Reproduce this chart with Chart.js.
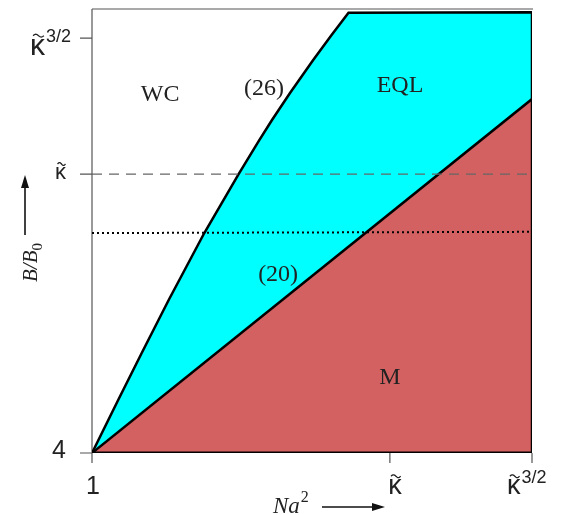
<!DOCTYPE html>
<html>
<head>
<meta charset="utf-8">
<script src="https://cdn.jsdelivr.net/npm/chart.js@4/dist/chart.umd.min.js"></script>
<style>
  body { margin: 0; background: #fff; }
</style>
</head>
<body>
<canvas id="phaseChart" width="561" height="515"></canvas>
<script>
// Both axes are log-like; values normalised so that kappa^{3/2} sits at 1
const xTickValues = [0, 0.677, 1];
const xTickBase = ['1', 'κ', 'κ'];
const xTickSup = ['', '', '3/2'];
const yTickValues = [0, 0.672, 1];
const yTickBase = ['4', 'κ', 'κ'];
const yTickSup = ['', '', '3/2'];

// boundary (26) between WC and EQL, then top edge and right edge of EQL
const curve26X = [0, 0.0595, 0.113, 0.1743, 0.2552, 0.3332, 0.3802, 0.4091, 0.45, 0.5027, 0.5445, 0.583, 1, 1];
const curve26Y = [0, 0.1277, 0.241, 0.3687, 0.5301, 0.6723, 0.7542, 0.8024, 0.8675, 0.947, 1.0072, 1.061, 1.062, 0];

// boundary (20) between EQL and M
const line20X = [0, 1];
const line20Y = [0, 0.853];

// bottom edge of M
const bottomX = [0, 1];
const bottomY = [0, 0];

// reference lines
const dashedX = [0, 0.99];
const dashedY = [0.672, 0.672];
const dottedX = [0, 1];
const dottedY = [0.530, 0.533];

// region names and where they sit (data units)
const regionNames = ['WC', 'EQL', 'M', '(26)', '(20)'];
const regionX = [0.155, 0.700, 0.677, 0.391, 0.423];
const regionY = [0.863, 0.884, 0.181, 0.877, 0.429];

const pts = (xs, ys) => xs.map((x, i) => ({ x: x, y: ys[i] }));

const serif = "'Liberation Serif', 'DejaVu Serif', serif";
const sans = "'Liberation Sans', Arial, sans-serif";

function arrow(ctx, x1, y1, x2, y2) {
    ctx.save();
    ctx.strokeStyle = '#111';
    ctx.fillStyle = '#111';
    ctx.lineWidth = 1.6;
    ctx.beginPath();
    ctx.moveTo(x1, y1);
    ctx.lineTo(x2, y2);
    ctx.stroke();
    const a = Math.atan2(y2 - y1, x2 - x1);
    ctx.beginPath();
    ctx.moveTo(x2 + 3 * Math.cos(a), y2 + 3 * Math.sin(a));
    ctx.lineTo(x2 - 10 * Math.cos(a) + 4 * Math.sin(a), y2 - 10 * Math.sin(a) - 4 * Math.cos(a));
    ctx.lineTo(x2 - 10 * Math.cos(a) - 4 * Math.sin(a), y2 - 10 * Math.sin(a) + 4 * Math.cos(a));
    ctx.closePath();
    ctx.fill();
    ctx.restore();
}

// draws base text (kappa gets a tilde) plus optional superscript, starting at x
function tickLabel(ctx, base, sup, x, baseline, size, supSize) {
    ctx.textAlign = 'left';
    ctx.textBaseline = 'alphabetic';
    ctx.font = size + 'px ' + sans;
    const bw = ctx.measureText(base).width;
    ctx.fillText(base, x, baseline);
    if (base === 'κ') {
        const cx = x + bw / 2 + 1;
        const ty = baseline - size * 0.53 - 3.5;
        const w = size * 0.36;
        ctx.save();
        ctx.strokeStyle = ctx.fillStyle;
        ctx.lineWidth = 1.3;
        ctx.beginPath();
        for (let t = 0; t <= 1.0001; t += 0.05) {
            const px = cx - w / 2 + t * w;
            const py = ty - 1.4 * Math.sin(2 * Math.PI * t);
            if (t === 0) ctx.moveTo(px, py); else ctx.lineTo(px, py);
        }
        ctx.stroke();
        ctx.restore();
    }
    if (sup) {
        ctx.font = supSize + 'px ' + sans;
        ctx.fillText(sup, x + bw + 1, baseline - size * 0.42);
    }
    return bw;
}

function labelWidth(ctx, base, sup, size, supSize) {
    ctx.font = size + 'px ' + sans;
    let w = ctx.measureText(base).width;
    if (sup) {
        ctx.font = supSize + 'px ' + sans;
        w += 1 + ctx.measureText(sup).width;
    }
    return w;
}

const framePlugin = {
    id: 'frame',
    beforeDatasetsDraw(chart) {
        const { ctx, chartArea: a, scales: { x, y } } = chart;
        ctx.save();
        ctx.strokeStyle = '#555';
        ctx.lineWidth = 1.2;
        ctx.beginPath();
        ctx.moveTo(a.left, a.top);
        ctx.lineTo(a.right + 1, a.top);
        ctx.moveTo(a.left, a.top);
        ctx.lineTo(a.left, a.bottom + 10);
        yTickValues.forEach(v => {
            const py = y.getPixelForValue(v);
            ctx.moveTo(a.left - 12, py);
            ctx.lineTo(a.left, py);
        });
        xTickValues.forEach(v => {
            const px = x.getPixelForValue(v);
            ctx.moveTo(px, a.bottom);
            ctx.lineTo(px, a.bottom + 10);
        });
        ctx.stroke();
        ctx.restore();
    },
    afterDatasetsDraw(chart) {
        const { ctx, chartArea: a, scales: { x, y } } = chart;
        ctx.save();
        ctx.fillStyle = '#222';

        // x tick labels
        xTickValues.forEach((v, i) => {
            const px = x.getPixelForValue(v);
            const size = xTickBase[i] === 'κ' ? 27 : 25;
            if (xTickSup[i]) {
                tickLabel(ctx, xTickBase[i], xTickSup[i], px - 25, a.bottom + 41, size, 18);
            } else {
                const w = labelWidth(ctx, xTickBase[i], '', size, 18);
                tickLabel(ctx, xTickBase[i], '', px - w / 2 + (xTickBase[i] === 'κ' ? 5 : 1), a.bottom + 41, size, 18);
            }
        });

        // y tick labels
        yTickValues.forEach((v, i) => {
            const py = y.getPixelForValue(v);
            if (yTickSup[i]) {
                const w = labelWidth(ctx, yTickBase[i], yTickSup[i], 30, 18);
                tickLabel(ctx, yTickBase[i], yTickSup[i], a.left - 21 - w, py + 17, 30, 18);
            } else {
                const size = yTickBase[i] === 'κ' ? 22 : 25;
                const w = labelWidth(ctx, yTickBase[i], '', size, 18);
                tickLabel(ctx, yTickBase[i], '', a.left - 26 - w, py + 5, size, 18);
            }
        });

        // axis titles
        ctx.fillStyle = '#222';
        ctx.font = 'italic 23px ' + serif;
        ctx.textAlign = 'left';
        ctx.textBaseline = 'alphabetic';
        ctx.fillText('Na', 273, 513);
        const naW = ctx.measureText('Na').width;
        ctx.font = '16px ' + serif;
        ctx.fillText('2', 273 + naW + 1, 502);
        arrow(ctx, 322, 507, 382, 507);

        ctx.save();
        ctx.translate(37, 282);
        ctx.rotate(-Math.PI / 2);
        ctx.font = 'italic 21px ' + serif;
        ctx.fillText('B/B', 0, 0);
        const bw = ctx.measureText('B/B').width;
        ctx.font = '15px ' + serif;
        ctx.fillText('0', bw, 5);
        ctx.restore();
        arrow(ctx, 25, 235, 25, 178);

        // region names
        ctx.font = '24px ' + serif;
        ctx.textAlign = 'center';
        ctx.textBaseline = 'middle';
        regionNames.forEach((name, i) => {
            ctx.fillText(name, x.getPixelForValue(regionX[i]), y.getPixelForValue(regionY[i]));
        });
        ctx.restore();
    }
};

new Chart(document.getElementById('phaseChart'), {
    type: 'scatter',
    data: {
        datasets: [
            {
                label: 'EQL',
                data: pts(curve26X, curve26Y),
                showLine: true,
                fill: 'origin',
                backgroundColor: '#00ffff',
                borderColor: '#000',
                borderWidth: 2.5,
                borderJoinStyle: 'miter',
                pointRadius: 0,
                order: 6
            },
            {
                label: 'M',
                data: pts(line20X, line20Y),
                showLine: true,
                fill: 'origin',
                backgroundColor: '#d46161',
                borderColor: '#000',
                borderWidth: 2.5,
                pointRadius: 0,
                order: 5
            },
            {
                // right edge again so the red fill does not cover it
                label: 'edge',
                data: pts([1, 1], [0.853, 0]),
                showLine: true,
                borderColor: '#000',
                borderWidth: 2.5,
                pointRadius: 0,
                order: 4
            },
            {
                label: 'kappa',
                data: pts(dashedX, dashedY),
                showLine: true,
                borderColor: '#666',
                borderWidth: 1.3,
                borderDash: [10, 7],
                pointRadius: 0,
                order: 3
            },
            {
                label: 'dotted',
                data: pts(dottedX, dottedY),
                showLine: true,
                borderColor: '#000',
                borderWidth: 2,
                borderDash: [2, 3],
                pointRadius: 0,
                order: 2
            },
            {
                label: 'bottom',
                data: pts(bottomX, bottomY),
                showLine: true,
                borderColor: '#000',
                borderWidth: 3,
                pointRadius: 0,
                order: 1
            }
        ]
    },
    options: {
        responsive: false,
        animation: false,
        layout: { padding: { left: 92, right: 29, top: 9, bottom: 62 } },
        scales: {
            x: { type: 'linear', min: 0, max: 1, display: false },
            y: { type: 'linear', min: 0, max: 1.07, display: false }
        },
        plugins: {
            legend: { display: false },
            tooltip: { enabled: false }
        }
    },
    plugins: [framePlugin]
});
</script>
</body>
</html>
